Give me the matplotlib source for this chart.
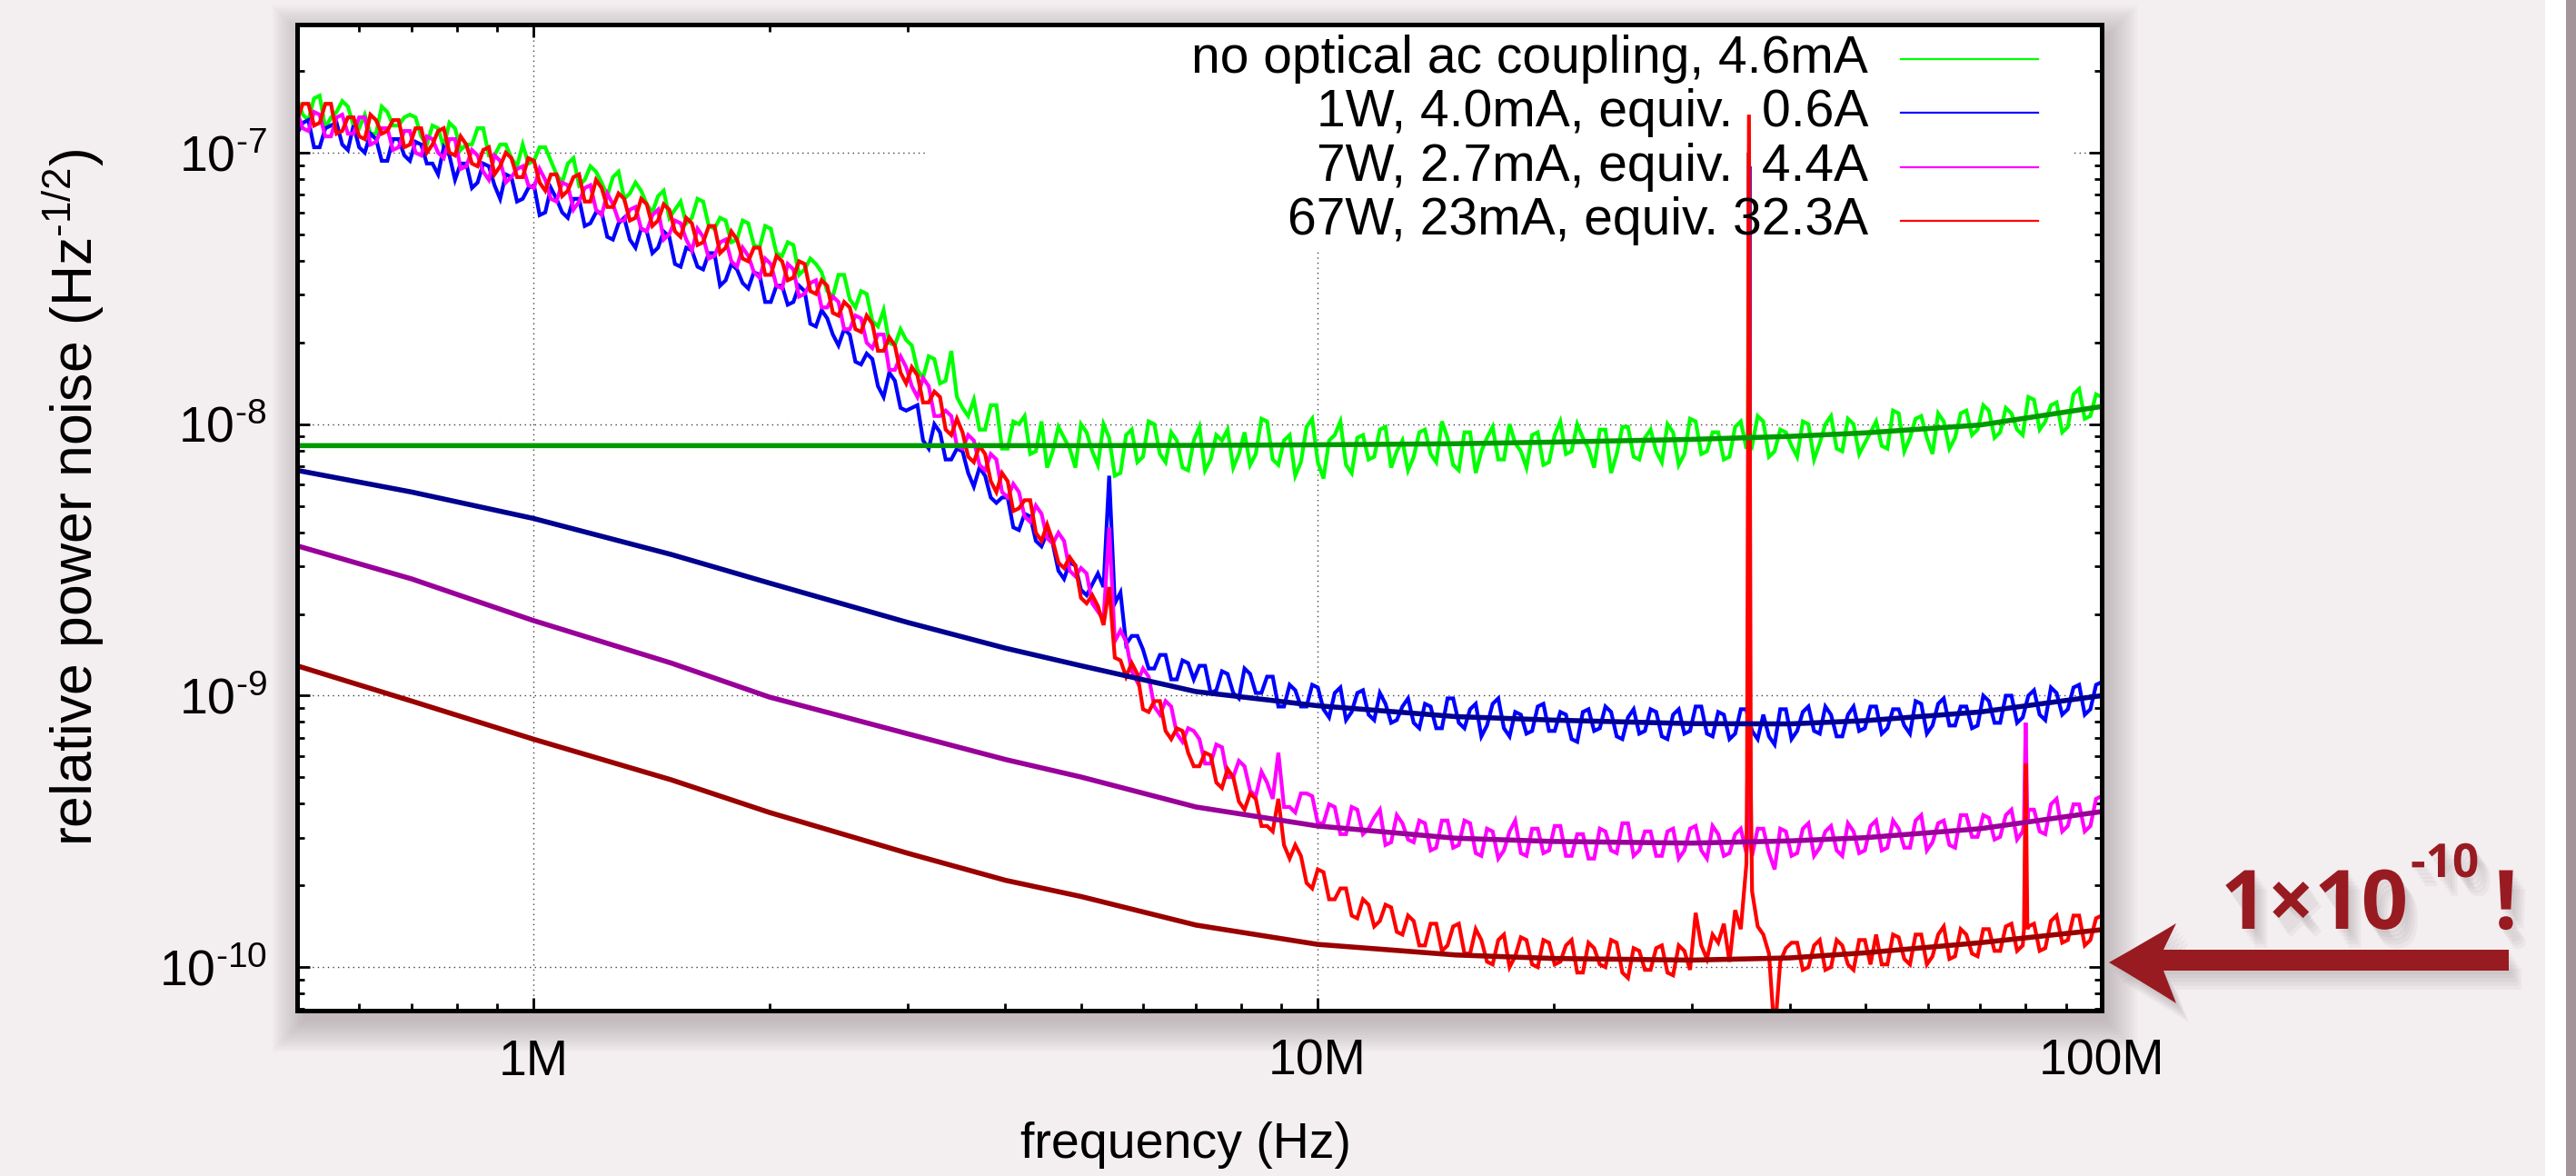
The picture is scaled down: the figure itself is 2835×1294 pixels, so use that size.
import numpy as np
import matplotlib
matplotlib.use("Agg")
import matplotlib.pyplot as plt
import matplotlib.transforms as mtransforms
import matplotlib.patheffects as pe
from matplotlib.patches import Rectangle, PathPatch
from matplotlib.path import Path
from matplotlib.ticker import LogLocator, FixedLocator, FixedFormatter, NullFormatter

plt.rcParams['font.family'] = ['Liberation Sans', 'DejaVu Sans']
plt.rcParams['mathtext.fontset'] = 'custom'
plt.rcParams['mathtext.rm'] = 'Liberation Sans'
plt.rcParams['mathtext.it'] = 'Liberation Sans:italic'
plt.rcParams['mathtext.bf'] = 'Liberation Sans:bold'

W, H = 2835, 1294

# analyser frequency bins (Hz): 161 log spaced bins from 500 kHz to 100 MHz,
# plus one reading between each pair of neighbouring bins
freq = np.logspace(np.log10(5e5), 8, 161)
freq_mid = np.sqrt(freq[:-1] * freq[1:])

# measured spectra, log10 of relative power noise (1/sqrt(Hz))
green_log = [
    -6.80, -6.88, -6.79, -6.87, -6.81, -6.90, -6.86, -6.93, -6.85, -6.90,
    -6.86, -6.94, -6.90, -6.98, -6.91, -6.97, -6.91, -7.01, -6.97, -7.02,
    -6.97, -7.03, -6.98, -7.08, -7.04, -7.12, -7.05, -7.11, -7.09, -7.17,
    -7.11, -7.19, -7.16, -7.24, -7.18, -7.24, -7.18, -7.28, -7.25, -7.32,
    -7.26, -7.35, -7.28, -7.38, -7.34, -7.43, -7.41, -7.51, -7.45, -7.54,
    -7.51, -7.62, -7.58, -7.71, -7.69, -7.80, -7.75, -7.85, -7.73, -7.94,
    -7.91, -8.02, -7.93, -8.09, -8.00, -8.11, -7.99, -8.10, -8.05, -8.16,
    -8.03, -8.15, -8.05, -8.18, -8.02, -8.12, -8.00, -8.14, -8.06, -8.17,
    -8.01, -8.13, -8.06, -8.16, -8.03, -8.11, -7.99, -8.15, -8.04, -8.14,
    -7.98, -8.20, -8.04, -8.15, -8.05, -8.13, -8.02, -8.16, -8.06, -8.12,
    -8.02, -8.14, -8.05, -8.17, -8.03, -8.10, -8.01, -8.13, -8.07, -8.16,
    -8.03, -8.14, -7.99, -8.10, -8.05, -8.16, -8.02, -8.11, -8.01, -8.13,
    -8.02, -8.14, -8.03, -8.11, -7.99, -8.10, -8.03, -8.12, -7.99, -8.08,
    -7.99, -8.10, -8.03, -8.12, -8.00, -8.07, -7.97, -8.10, -8.00, -8.07,
    -7.99, -8.09, -7.96, -8.05, -7.97, -8.11, -7.99, -8.05, -7.95, -8.02,
    -7.95, -8.03, -7.96, -8.04, -7.91, -7.99, -7.92, -8.01, -7.87, -7.97, -7.90,
]
green_mid_log = [
    -6.86, -6.80, -6.91, -6.85, -6.83, -6.91, -6.93, -6.83, -6.90, -6.87,
    -6.87, -6.97, -6.91, -6.89, -6.99, -6.97, -6.91, -7.01, -6.97, -7.05,
    -7.04, -6.98, -7.03, -7.11, -7.02, -7.10, -7.07, -7.16, -7.07, -7.15,
    -7.14, -7.22, -7.14, -7.21, -7.26, -7.17, -7.27, -7.24, -7.33, -7.25,
    -7.34, -7.27, -7.37, -7.33, -7.45, -7.39, -7.44, -7.53, -7.45, -7.57,
    -7.52, -7.64, -7.70, -7.65, -7.71, -7.83, -7.76, -7.84, -7.90, -7.97,
    -8.02, -7.93, -8.09, -7.99, -7.97, -8.10, -8.16, -8.01, -8.09, -8.00,
    -8.10, -8.00, -8.19, -8.04, -8.14, -7.99, -8.11, -8.03, -8.16, -8.06,
    -8.17, -8.04, -8.02, -8.11, -8.15, -7.98, -8.13, -8.06, -8.19, -8.01,
    -8.14, -8.06, -7.99, -8.18, -8.04, -8.12, -8.01, -8.10, -8.17, -8.03,
    -8.11, -7.99, -8.15, -8.03, -8.18, -8.05, -8.13, -8.00, -8.10, -8.04,
    -8.15, -8.04, -8.11, -8.00, -8.09, -8.02, -8.18, -8.01, -8.12, -8.05,
    -8.10, -8.00, -8.15, -7.98, -8.11, -8.03, -8.13, -8.01, -8.09, -7.97,
    -8.12, -8.02, -8.08, -7.99, -8.13, -8.00, -8.09, -7.98, -8.11, -8.03,
    -8.08, -7.95, -8.10, -7.98, -8.05, -7.96, -8.09, -7.96, -8.04, -7.93,
    -8.05, -7.94, -8.02, -7.90, -8.02, -7.93, -8.03, -7.89, -7.98, -7.89,
]
blue_log = [
    -6.93, -6.88, -6.98, -6.90, -6.97, -6.90, -7.00, -6.95, -7.03, -6.95,
    -7.03, -6.97, -7.04, -6.98, -7.10, -7.04, -7.11, -7.05, -7.17, -7.09,
    -7.17, -7.12, -7.22, -7.17, -7.24, -7.17, -7.26, -7.22, -7.32, -7.24,
    -7.35, -7.29, -7.35, -7.31, -7.42, -7.36, -7.43, -7.37, -7.47, -7.43,
    -7.50, -7.45, -7.55, -7.49, -7.55, -7.51, -7.64, -7.61, -7.71, -7.67,
    -7.78, -7.76, -7.90, -7.84, -7.95, -7.93, -8.09, -8.03, -8.13, -8.10,
    -8.23, -8.19, -8.29, -8.27, -8.39, -8.34, -8.45, -8.44, -8.57, -8.52,
    -8.63, -8.55, -8.19, -8.62, -8.78, -8.83, -8.90, -8.85, -8.94, -8.88,
    -8.89, -8.99, -8.91, -8.99, -8.90, -8.99, -8.93, -9.04, -8.96, -9.04,
    -8.96, -9.05, -8.99, -9.09, -8.99, -9.07, -8.99, -9.10, -9.04, -9.10,
    -9.03, -9.12, -9.01, -9.10, -9.05, -9.15, -9.03, -9.12, -9.06, -9.14,
    -9.04, -9.13, -9.06, -9.16, -9.06, -9.13, -9.04, -9.15, -9.08, -9.14,
    -9.05, -9.15, -9.07, -9.14, -9.04, -9.14, -9.06, -9.16, -9.05, -9.13,
    -9.07, -9.18, -9.05, -9.13, -9.04, -9.14, -9.07, -9.15, -9.04, -9.12,
    -9.04, -9.12, -9.05, -9.14, -9.03, -9.11, -9.01, -9.11, -9.04, -9.11,
    -9.02, -9.10, -9.00, -9.08, -8.98, -9.09, -8.99, -9.05, -8.96, -9.05, -8.95,
]
blue_mid_log = [
    -6.89, -6.98, -6.91, -6.89, -6.99, -6.98, -6.93, -7.03, -6.95, -7.01,
    -6.96, -7.04, -7.08, -7.01, -7.04, -7.13, -7.04, -7.12, -7.08, -7.18,
    -7.13, -7.23, -7.13, -7.22, -7.17, -7.27, -7.22, -7.31, -7.26, -7.32,
    -7.28, -7.37, -7.29, -7.41, -7.35, -7.42, -7.37, -7.49, -7.41, -7.48,
    -7.44, -7.55, -7.49, -7.56, -7.49, -7.63, -7.58, -7.67, -7.65, -7.77,
    -7.74, -7.86, -7.81, -7.94, -7.94, -8.06, -8.00, -8.13, -8.09, -8.18,
    -8.16, -8.27, -8.27, -8.38, -8.33, -8.43, -8.40, -8.54, -8.51, -8.61,
    -8.59, -8.60, -8.66, -8.81, -8.78, -8.90, -8.85, -8.94, -8.87, -8.94,
    -8.89, -8.98, -8.92, -9.01, -8.92, -8.99, -8.93, -9.04, -8.98, -9.04,
    -8.97, -9.08, -8.97, -9.06, -8.98, -9.09, -9.03, -9.09, -9.01, -9.12,
    -9.04, -9.12, -9.01, -9.12, -9.03, -9.11, -9.01, -9.15, -9.07, -9.13,
    -9.03, -9.13, -9.07, -9.17, -9.05, -9.12, -9.06, -9.16, -9.05, -9.13,
    -9.06, -9.16, -9.05, -9.13, -9.04, -9.15, -9.07, -9.14, -9.05, -9.16,
    -9.15, -9.05, -9.16, -9.06, -9.13, -9.04, -9.15, -9.07, -9.13, -9.04,
    -9.14, -9.05, -9.11, -9.02, -9.14, -9.03, -9.11, -9.04, -9.12, -9.00,
    -9.10, -9.00, -9.10, -9.00, -9.07, -8.97, -9.07, -8.97, -9.07, -8.96,
]
magenta_log = [
    -6.85, -6.92, -6.86, -6.94, -6.86, -6.93, -6.87, -6.96, -6.91, -6.98,
    -6.92, -7.01, -6.95, -7.02, -6.95, -7.05, -7.01, -7.10, -7.03, -7.09,
    -7.05, -7.13, -7.10, -7.18, -7.12, -7.18, -7.12, -7.23, -7.19, -7.25,
    -7.20, -7.29, -7.21, -7.30, -7.26, -7.36, -7.31, -7.38, -7.32, -7.42,
    -7.38, -7.46, -7.41, -7.50, -7.43, -7.52, -7.47, -7.57, -7.55, -7.65,
    -7.61, -7.72, -7.67, -7.80, -7.79, -7.90, -7.86, -7.97, -7.97, -8.09,
    -8.06, -8.17, -8.13, -8.27, -8.25, -8.36, -8.33, -8.44, -8.43, -8.56,
    -8.55, -8.69, -8.38, -8.76, -8.91, -8.90, -9.04, -9.02, -9.14, -9.12,
    -9.16, -9.25, -9.19, -9.30, -9.26, -9.37, -9.32, -9.21, -9.41, -9.36,
    -9.37, -9.47, -9.41, -9.51, -9.42, -9.49, -9.42, -9.54, -9.47, -9.54,
    -9.47, -9.56, -9.46, -9.55, -9.47, -9.59, -9.50, -9.57, -9.46, -9.59,
    -9.49, -9.57, -9.48, -9.59, -9.51, -9.60, -9.50, -9.58, -9.47, -9.57,
    -9.50, -9.59, -9.49, -9.57, -9.48, -9.60, -9.51, -9.58, -9.49, -9.59,
    -9.49, -9.64, -9.50, -9.58, -9.47, -9.56, -9.48, -9.59, -9.50, -9.57,
    -9.46, -9.56, -9.49, -9.56, -9.44, -9.54, -9.46, -9.56, -9.44, -9.52,
    -9.45, -9.52, -9.42, -9.50, -9.42, -9.51, -9.38, -9.48, -9.40, -9.48, -9.37,
]
magenta_mid_log = [
    -6.91, -6.85, -6.94, -6.87, -6.93, -6.87, -6.97, -6.91, -6.99, -6.92,
    -7.00, -6.94, -7.00, -6.95, -7.06, -6.99, -7.07, -7.01, -7.11, -7.06,
    -7.12, -7.06, -7.17, -7.11, -7.21, -7.13, -7.21, -7.15, -7.25, -7.21,
    -7.28, -7.23, -7.32, -7.25, -7.32, -7.28, -7.39, -7.33, -7.40, -7.35,
    -7.44, -7.39, -7.49, -7.41, -7.53, -7.48, -7.57, -7.53, -7.65, -7.60,
    -7.70, -7.67, -7.80, -7.75, -7.86, -7.83, -7.97, -7.95, -8.08, -8.04,
    -8.15, -8.11, -8.25, -8.22, -8.34, -8.30, -8.42, -8.40, -8.54, -8.53,
    -8.66, -8.72, -8.80, -8.80, -8.95, -8.93, -9.07, -9.04, -9.17, -9.13,
    -9.25, -9.18, -9.30, -9.24, -9.35, -9.28, -9.38, -9.41, -9.43, -9.36,
    -9.47, -9.40, -9.51, -9.41, -9.51, -9.45, -9.55, -9.44, -9.53, -9.46,
    -9.57, -9.46, -9.56, -9.46, -9.58, -9.49, -9.60, -9.50, -9.58, -9.49,
    -9.58, -9.48, -9.59, -9.51, -9.60, -9.49, -9.57, -9.47, -9.59, -9.50,
    -9.59, -9.50, -9.60, -9.49, -9.57, -9.48, -9.59, -9.51, -9.58, -9.49,
    -9.58, -9.49, -9.59, -9.49, -9.59, -9.50, -9.57, -9.47, -9.58, -9.48,
    -9.57, -9.46, -9.56, -9.46, -9.57, -9.47, -9.55, -9.44, -9.52, -9.44,
    -9.53, -9.44, -9.53, -9.42, -9.50, -9.40, -9.50, -9.40, -9.50, -9.38,
]
red_log = [
    -6.88, -6.82, -6.89, -6.82, -6.92, -6.87, -6.95, -6.88, -6.92, -6.88,
    -6.97, -6.91, -6.97, -6.91, -7.01, -6.97, -7.05, -6.98, -7.05, -7.02,
    -7.09, -7.03, -7.14, -7.08, -7.14, -7.08, -7.18, -7.13, -7.20, -7.17,
    -7.24, -7.19, -7.25, -7.21, -7.31, -7.26, -7.33, -7.27, -7.35, -7.32,
    -7.40, -7.35, -7.45, -7.40, -7.46, -7.41, -7.52, -7.49, -7.60, -7.57,
    -7.66, -7.63, -7.73, -7.71, -7.85, -7.82, -7.92, -7.90, -8.04, -8.03,
    -8.14, -8.11, -8.25, -8.21, -8.31, -8.28, -8.43, -8.43, -8.53, -8.52,
    -8.66, -8.67, -8.60, -8.87, -8.88, -9.05, -9.02, -9.13, -9.12, -9.21,
    -9.26, -9.22, -9.34, -9.30, -9.42, -9.38, -9.48, -9.38, -9.60, -9.59,
    -9.71, -9.65, -9.75, -9.71, -9.82, -9.77, -9.83, -9.78, -9.88, -9.83,
    -9.92, -9.84, -9.92, -9.84, -9.95, -9.90, -9.99, -9.88, -9.96, -9.90,
    -10.00, -9.91, -9.98, -9.90, -10.02, -9.93, -10.00, -9.91, -10.04, -9.94,
    -10.01, -9.92, -10.03, -9.94, -9.80, -9.97, -9.91, -9.98, -9.86, -9.72,
    -9.88, -10.25, -9.93, -9.91, -10.00, -9.90, -10.00, -9.92, -10.01, -9.90,
    -9.88, -9.99, -9.89, -9.99, -9.88, -9.96, -9.85, -9.96, -9.88, -9.96,
    -9.86, -9.94, -9.84, -9.92, -9.84, -9.93, -9.81, -9.90, -9.81, -9.90, -9.81,
]
red_mid_log = [
    -6.82, -6.90, -6.82, -6.93, -6.87, -6.94, -6.86, -6.93, -6.88, -6.98,
    -6.91, -7.00, -6.92, -7.00, -6.94, -7.04, -6.99, -7.08, -7.00, -7.09,
    -7.02, -7.11, -7.08, -7.16, -7.09, -7.18, -7.10, -7.20, -7.15, -7.25,
    -7.17, -7.27, -7.19, -7.29, -7.24, -7.34, -7.27, -7.37, -7.29, -7.39,
    -7.35, -7.45, -7.38, -7.47, -7.40, -7.51, -7.47, -7.59, -7.55, -7.65,
    -7.60, -7.73, -7.68, -7.81, -7.79, -7.92, -7.88, -8.02, -7.98, -8.12,
    -8.08, -8.21, -8.18, -8.32, -8.28, -8.40, -8.37, -8.51, -8.49, -8.64,
    -8.63, -8.74, -8.86, -8.93, -8.92, -9.06, -9.02, -9.16, -9.13, -9.26,
    -9.21, -9.32, -9.27, -9.39, -9.36, -9.48, -9.50, -9.55, -9.55, -9.69,
    -9.64, -9.75, -9.71, -9.81, -9.75, -9.85, -9.77, -9.87, -9.81, -9.92,
    -9.84, -9.94, -9.85, -9.95, -9.86, -9.98, -9.90, -10.00, -9.89, -9.99,
    -9.90, -9.99, -9.92, -10.02, -9.91, -9.99, -9.90, -10.02, -9.93, -10.01,
    -9.93, -10.02, -9.92, -10.01, -9.92, -9.88, -9.84, -9.79, -9.62, -9.85,
    -9.95, -9.98, -9.91, -10.01, -9.92, -10.01, -9.90, -9.99, -9.90, -9.99,
    -9.99, -9.88, -9.97, -9.88, -9.99, -9.88, -9.97, -9.86, -9.95, -9.86,
    -9.94, -9.85, -9.94, -9.85, -9.94, -9.83, -9.91, -9.81, -9.92, -9.82,
]

# narrow pickup lines that fall between the bins
green_spike_f = [35.40e6, 35.45e6, 35.50e6]
green_spike_log = [-8.06, -7.00, -8.06]
blue_spike_f = [35.50e6, 35.55e6, 35.60e6]
blue_spike_log = [-9.10, -7.05, -9.10]
magenta_spike_f = [35.45e6, 35.50e6, 35.55e6, 79.6e6, 80.0e6, 80.4e6]
magenta_spike_log = [-9.50, -7.00, -9.50, -9.47, -9.10, -9.47]
red_spike_f = [35.3e6, 35.5e6, 35.7e6, 79.6e6, 80.0e6, 80.4e6]
red_spike_log = [-9.30, -6.86, -9.35, -9.86, -9.25, -9.86]

# fitted noise models
fit_f = np.array([0.5, 0.7, 1, 1.5, 2, 3, 4, 5, 7, 10, 15, 20, 30, 40, 50, 70, 100]) * 1e6
fit_green_log = [-8.079, -8.079, -8.079, -8.079, -8.079, -8.079, -8.079, -8.079, -8.078,
                 -8.076, -8.072, -8.066, -8.056, -8.045, -8.032, -8.003, -7.935]
fit_blue_log = [-8.17, -8.25, -8.347, -8.48, -8.585, -8.73, -8.825, -8.89, -8.985,
                -9.037, -9.077, -9.09, -9.103, -9.104, -9.092, -9.06, -9.0]
fit_magenta_log = [-8.448, -8.57, -8.723, -8.88, -9.005, -9.14, -9.235, -9.30, -9.41,
                   -9.48, -9.525, -9.537, -9.543, -9.535, -9.523, -9.49, -9.427]
fit_red_log = [-8.89, -9.02, -9.16, -9.31, -9.43, -9.58, -9.68, -9.74, -9.845,
               -9.916, -9.955, -9.968, -9.974, -9.966, -9.947, -9.91, -9.862]

labels = ["no optical ac coupling, 4.6mA",
          "1W, 4.0mA, equiv.  0.6A",
          "7W, 2.7mA, equiv.  4.4A",
          "67W, 23mA, equiv. 32.3A"]
data_colors = ['#00ff00', '#0000ff', '#ff00ff', '#ff0000']
fit_colors = ['#009a00', '#00008f', '#990099', '#9a0000']


def spectrum(vals, mids, spike_f, spike_log):
    f = np.concatenate([freq, freq_mid, spike_f])
    y = np.concatenate([np.array(vals), np.array(mids), np.array(spike_log)])
    order = np.argsort(f)
    return f[order], 10.0 ** y[order]


fig = plt.figure(figsize=(W / 100, H / 100), dpi=100)
fig.patch.set_facecolor('#f3eef0')
px = mtransforms.Affine2D().scale(1 / W, -1 / H).translate(0, 1) + fig.transFigure

# slide decoration on the right edge
fig.add_artist(Rectangle((2801, 0), 23, H, transform=px, facecolor='white', edgecolor='none', zorder=-5))
fig.add_artist(Rectangle((2824, 0), 11, H, transform=px, facecolor='#a3959a', edgecolor='none', zorder=-5))

# soft drop shadow under the plot
ax_x0, ax_y0, ax_w, ax_h = 327, 27, 1986, 1085
for k in range(12):
    pad = 3 * k
    fig.add_artist(Rectangle((ax_x0 + 6 - pad, ax_y0 + 12 - pad), ax_w + 2 * pad, ax_h + 2 * pad,
                             transform=px, facecolor='#6b5f65', edgecolor='none', alpha=0.03, zorder=-4))

ax = fig.add_axes([ax_x0 / W, 1 - (ax_y0 + ax_h) / H, ax_w / W, ax_h / H])
ax.set_facecolor('white')
ax.set_xscale('log')
ax.set_yscale('log')

series = [(green_log, green_mid_log, green_spike_f, green_spike_log, fit_green_log),
          (blue_log, blue_mid_log, blue_spike_f, blue_spike_log, fit_blue_log),
          (magenta_log, magenta_mid_log, magenta_spike_f, magenta_spike_log, fit_magenta_log),
          (red_log, red_mid_log, red_spike_f, red_spike_log, fit_red_log)]
for (vals, mids, sf, sl, fit), c, fc in zip(series, data_colors, fit_colors):
    f, y = spectrum(vals, mids, sf, sl)
    ax.plot(f, y, color=c, lw=3.0, zorder=2, solid_joinstyle='miter')
    ax.plot(fit_f, 10.0 ** np.array(fit), color=fc, lw=4.0, zorder=2.1, solid_capstyle='butt')

ax.set_xlim(5e5, 1e8)
ax.set_ylim(10 ** -10.16, 10 ** -6.528)

# white key area hides the grid behind the labels
ax.add_patch(Rectangle((0.3494, 0.7724), 0.6335, 0.2276, transform=ax.transAxes,
                       facecolor='white', edgecolor='none', zorder=1))

ax.set_axisbelow(True)
ax.grid(True, which='major', color='0.25', linestyle=(0, (1, 3)), lw=1.0)

ax.xaxis.set_major_locator(FixedLocator([1e6, 1e7, 1e8]))
ax.xaxis.set_major_formatter(FixedFormatter(['1M', '10M', '100M']))
ax.xaxis.set_minor_locator(LogLocator(base=10, subs=np.arange(2, 10)))
ax.xaxis.set_minor_formatter(NullFormatter())
ax.yaxis.set_major_locator(FixedLocator([1e-10, 1e-9, 1e-8, 1e-7]))
ax.yaxis.set_major_formatter(FixedFormatter([r'$10^{\text{-}10}$', r'$10^{\text{-}9}$',
                                             r'$10^{\text{-}8}$', r'$10^{\text{-}7}$']))
ax.yaxis.set_minor_locator(LogLocator(base=10, subs=np.arange(2, 10)))
ax.yaxis.set_minor_formatter(NullFormatter())

ax.tick_params(which='both', direction='in', top=True, right=True, width=2.0, colors='black')
ax.tick_params(which='major', length=10, labelsize=40)
ax.tick_params(which='minor', length=6)
ax.tick_params(axis='x', which='major', pad=22)
ax.tick_params(axis='y', which='major', pad=24)
for s in ax.spines.values():
    s.set_linewidth(3.6)

ax.set_xlabel('frequency (Hz)', fontsize=40)
ax.xaxis.set_label_coords(0.4925, -0.136)
ax.xaxis.label.set_va('center')
ax.set_ylabel(r'relative power noise (Hz$^{\text{-}1/2}$)', fontsize=45)
ax.yaxis.set_label_coords(-0.124, 0.52)
ax.yaxis.label.set_va('center')

# key: right aligned labels with short line samples
key_y = [0.965, 0.9106, 0.8553, 0.8009]
for lab, c, yy in zip(labels, data_colors, key_y):
    ax.text(0.8706, yy, lab, transform=ax.transAxes, ha='right', va='center', fontsize=41, zorder=5)
    ax.plot([0.8887, 0.9648], [yy, yy], transform=ax.transAxes, color=c, lw=1.6, zorder=5)

# callout arrow and text
red_dark = '#981b21'
shadow = [pe.SimplePatchShadow(offset=(o, -o * 1.5), shadow_rgbFace='#6b5f65', alpha=0.06)
          for o in (2, 4, 6, 8, 10)] + [pe.Normal()]
verts = [(2321, 1059), (2362, 1036), (2395, 1016), (2381, 1045), (2761, 1045), (2761, 1068),
         (2381, 1068), (2395, 1104), (2362, 1083), (2321, 1059), (2321, 1059)]
codes = [Path.MOVETO, Path.CURVE3, Path.CURVE3, Path.LINETO, Path.LINETO, Path.LINETO,
         Path.LINETO, Path.LINETO, Path.CURVE3, Path.CURVE3, Path.CLOSEPOLY]
arrow = PathPatch(Path(verts, codes), transform=px, facecolor=red_dark, edgecolor='none', zorder=3)
arrow.set_path_effects(shadow)
fig.add_artist(arrow)

fig.text(2444 / W, 1 - 1022 / H, '1\u00d710', fontsize=65, fontweight='bold', family='Open Sans',
         color=red_dark, ha='left', va='baseline', path_effects=shadow)
fig.text(2653 / W, 1 - 965 / H, '-10', fontsize=37, fontweight='bold', family='Open Sans',
         color=red_dark, ha='left', va='baseline', path_effects=shadow)
fig.text(2745 / W, 1 - 1022 / H, '!', fontsize=65, fontweight='bold', family='Open Sans',
         color=red_dark, ha='left', va='baseline', path_effects=shadow)

fig.savefig('out.png', dpi=100, facecolor=fig.get_facecolor())
